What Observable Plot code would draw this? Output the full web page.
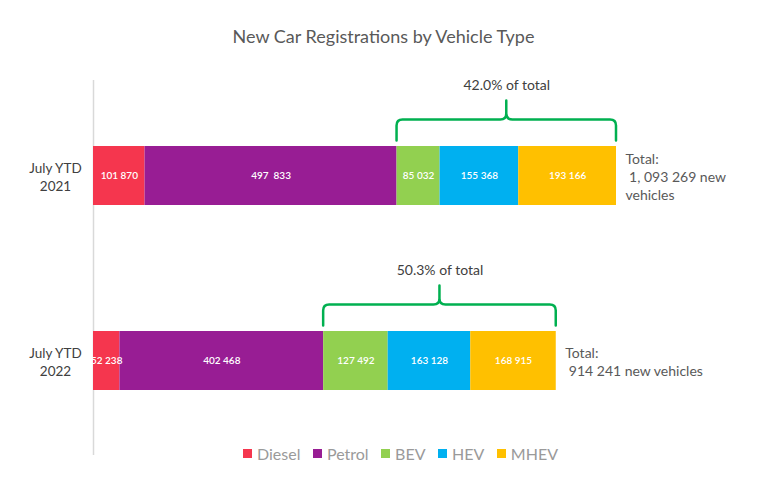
<!DOCTYPE html>
<html>
<head>
<meta charset="utf-8">
<script src="https://cdn.jsdelivr.net/npm/d3@7"></script>
<script src="https://cdn.jsdelivr.net/npm/@observablehq/plot@0.6"></script>
<style>
  html, body { margin: 0; padding: 0; background: #fff; }
  body { width: 767px; height: 496px; position: relative; overflow: hidden; font-family: Lato, "Open Sans", sans-serif; }
  #title { height: 33px; padding-top: 25px; line-height: 22px; text-align: center; font-size: 18px; color: #595959; }
  #chart svg text { white-space: pre; }
  #legend { position: absolute; left: 243px; top: 444px; display: flex; justify-content: flex-start; align-items: center; font-size: 16px; color: #9a9a9a; }
  #legend .item { display: flex; align-items: center; margin-right: 12.5px; }
  #legend .sw { width: 9px; height: 9px; margin-right: 5px; display: inline-block; }
</style>
</head>
<body>
<div id="title">New Car Registrations by Vehicle Type</div>
<div id="chart"></div>
<div id="legend"></div>
<script>
const years = ["2021", "2022"];
const types = ["Diesel", "Petrol", "BEV", "HEV", "MHEV"];
const typeColors = ["#F5364E", "#981D94", "#92D050", "#00B0F0", "#FFC000"];
const values2021 = [101870, 497833, 85032, 155368, 193166];
const values2022 = [52238, 402468, 127492, 163128, 168915];
const labels2021 = ["101 870", "497  833", "85 032", "155 368", "193 166"];
const labels2022 = ["52 238", "402 468", "127 492", "163 128", "168 915"];
const electrifiedTypes = ["BEV", "HEV", "MHEV"];
const shareLabels = ["42.0% of total", "50.3% of total"];
const totalLabels = ["Total:\n 1, 093 269 new\nvehicles", "Total:\n 914 241 new vehicles"];

const valuesByYear = [values2021, values2022];
const labelsByYear = [labels2021, labels2022];

const rows = years.flatMap((year, i) =>
  types.map((type, j) => ({year, type, value: valuesByYear[i][j], label: labelsByYear[i][j]}))
);

const summary = years.map((year, i) => {
  const vals = valuesByYear[i];
  const total = d3.sum(vals);
  const start = d3.sum(vals.filter((v, j) => !electrifiedTypes.includes(types[j])));
  return {year, total, start, mid: (start + total) / 2, share: shareLabels[i], totalLabel: totalLabels[i]};
});

const braceColor = "#00B050";

function braceMark(index, scales) {
  const x = scales.x, y = scales.y;
  const bw = y.bandwidth ? y.bandwidth() : 0;
  const g = d3.create("svg:g");
  for (const s of summary) {
    const a = x(s.start), b = x(s.total), m = (a + b) / 2;
    const yc = y(s.year) + bw / 2;
    const yt = yc - 35, yh = yc - 56, yp = yc - 75, r = 6;
    const p = `M${a},${yt} L${a},${yh + r} Q${a},${yh} ${a + r},${yh} L${m - r},${yh} Q${m},${yh} ${m},${yh - r} L${m},${yp} ` +
              `M${m},${yh - r} Q${m},${yh} ${m + r},${yh} L${b - r},${yh} Q${b},${yh} ${b},${yh + r} L${b},${yt}`;
    g.append("path").attr("d", p).attr("fill", "none").attr("stroke", braceColor)
      .attr("stroke-width", 2.5).attr("stroke-linejoin", "round").attr("stroke-linecap", "round");
  }
  return g.node();
}

const plot = Plot.plot({
  width: 767,
  height: 400,
  marginLeft: 93,
  marginRight: 151,
  marginTop: 22,
  marginBottom: 3,
  style: {fontFamily: "Lato, 'Open Sans', sans-serif", background: "#fff"},
  x: {domain: [0, d3.max(summary, d => d.total)], axis: null},
  y: {domain: years, paddingInner: 0.682, paddingOuter: 0.352, label: null},
  color: {domain: types, range: typeColors},
  marks: [
    Plot.ruleX([0], {stroke: "#d9d9d9", strokeWidth: 1.5}),
    Plot.barX(rows, Plot.stackX({x: "value", y: "year", fill: "type", z: "type"})),
    Plot.text(rows, Plot.stackX({x: "value", y: "year", z: "type", text: "label", fill: "#fff", fontSize: 10, fontWeight: 600})),
    Plot.axisY({tickSize: 0, tickPadding: 38, textAnchor: "middle", tickFormat: d => "July YTD\n" + d, fontSize: 13.5, lineHeight: 1.35, color: "#404040", label: null}),
    Plot.text(summary, {x: "total", y: "year", text: "totalLabel", textAnchor: "start", dx: 9, lineHeight: 1.3, fontSize: 14, fill: "#595959"}),
    Plot.text(summary, {x: "mid", y: "year", text: "share", dy: -90, fontSize: 14, fill: "#404040"}),
    braceMark
  ]
});
document.getElementById("chart").appendChild(plot);

const legend = document.getElementById("legend");
types.forEach((t, i) => {
  const item = document.createElement("div");
  item.className = "item";
  const sw = document.createElement("span");
  sw.className = "sw";
  sw.style.background = typeColors[i];
  item.appendChild(sw);
  item.appendChild(document.createTextNode(t));
  legend.appendChild(item);
});
</script>
</body>
</html>
